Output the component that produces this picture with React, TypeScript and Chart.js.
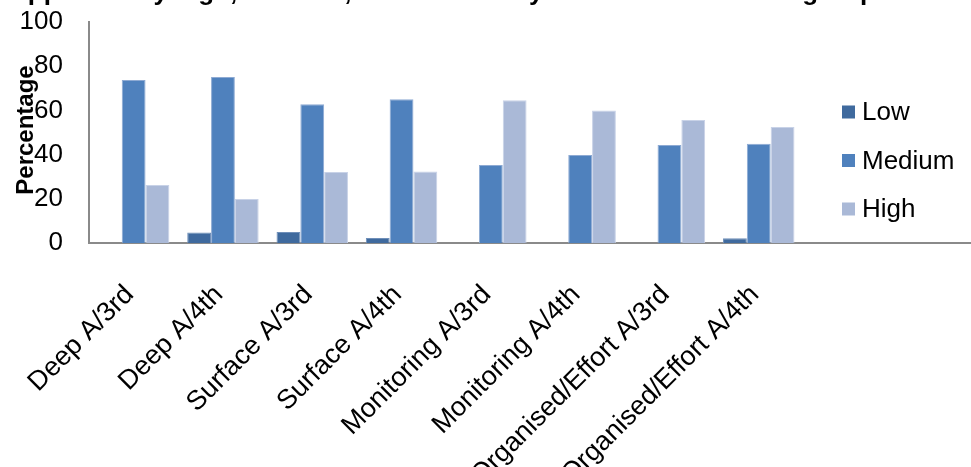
import { useEffect, useRef } from 'react';
import { Chart, registerables } from 'chart.js';

Chart.register(...registerables);

const TITLE = 'Approach by high, medium, and low-level year students in each group';
const Y_TITLE = 'Percentage';
const CATEGORIES = [
  'Deep A/3rd',
  'Deep A/4th',
  'Surface A/3rd',
  'Surface A/4th',
  'Monitoring A/3rd',
  'Monitoring A/4th',
  'Organised/Effort A/3rd',
  'Organised/Effort A/4th',
];
const EMPTY_SLOTS = ['', ''];
const SERIES_NAMES = ['Low', 'Medium', 'High'];
const LOW = [0, 4.8, 5.0, 2.3, 0, 0, 0, 2.1];
const MEDIUM = [73.8, 75.1, 62.8, 65.0, 35.3, 39.8, 44.3, 44.9];
const HIGH = [26.2, 19.9, 32.1, 32.4, 64.6, 60.0, 55.7, 52.5];
const Y_MIN = 0;
const Y_MAX = 100;
const Y_STEP = 20;
const COLORS = ['#3F6A9E', '#4F81BD', '#AAB9D7'];
const EDGE_COLORS = ['#6F8FB9', '#8EAAD3', '#C8D2E7'];

const FONT = '"Liberation Sans", Arial, sans-serif';

export default function App() {
  const ref = useRef<HTMLCanvasElement>(null);

  useEffect(() => {
    if (!ref.current) return;

    const overlay = {
      id: 'overlay',
      afterDraw(chart: any) {
        const ctx = chart.ctx as CanvasRenderingContext2D;
        ctx.save();
        // chart title (mostly outside the visible area at the top)
        ctx.fillStyle = '#000';
        ctx.font = `bold 26px ${FONT}`;
        ctx.textAlign = 'left';
        ctx.textBaseline = 'alphabetic';
        ctx.fillText(TITLE, 9, 0);

        // y axis title
        ctx.save();
        ctx.translate(33, 130);
        ctx.rotate(-Math.PI / 2);
        ctx.font = `bold 24px ${FONT}`;
        ctx.textAlign = 'center';
        ctx.textBaseline = 'alphabetic';
        ctx.fillText(Y_TITLE, 0, 0);
        ctx.restore();

        // legend
        chart.data.datasets.forEach((ds: any, i: number) => {
          const cy = 112 + i * 48.5;
          ctx.fillStyle = ds.backgroundColor;
          ctx.fillRect(842, cy - 6.5, 13, 13);
          ctx.fillStyle = '#000';
          ctx.font = `26px ${FONT}`;
          ctx.textAlign = 'left';
          ctx.textBaseline = 'middle';
          ctx.fillText(ds.label, 862, cy + 1);
        });
        ctx.restore();
      },
    };

    const seriesData = [LOW, MEDIUM, HIGH];
    const chart = new Chart(ref.current, {
      type: 'bar',
      data: {
        labels: [...CATEGORIES, ...EMPTY_SLOTS],
        datasets: SERIES_NAMES.map((name, i) => ({
          label: name,
          data: seriesData[i],
          backgroundColor: COLORS[i],
          borderColor: EDGE_COLORS[i],
          borderWidth: 1,
          categoryPercentage: 0.8,
          barPercentage: 1.0,
        })),
      },
      options: {
        responsive: false,
        animation: false,
        layout: { padding: { top: 22, right: 3, left: 0, bottom: 0 } },
        plugins: {
          legend: { display: false },
          title: { display: false },
          tooltip: { enabled: false },
        },
        scales: {
          x: {
            offset: true,
            grid: { display: false, drawTicks: false },
            border: { display: true, color: '#8a8a8a', width: 2 },
            ticks: {
              autoSkip: false,
              maxRotation: 45,
              minRotation: 45,
              padding: 36,
              labelOffset: -4,
              color: '#000',
              font: { family: FONT, size: 27 },
            },
            afterFit: (s: any) => {
              s.height = 224;
              s.paddingLeft = 0;
              s.paddingRight = 0;
            },
          },
          y: {
            min: Y_MIN,
            max: Y_MAX,
            grid: { display: false, drawTicks: false },
            border: { display: true, color: '#8a8a8a', width: 2 },
            ticks: {
              stepSize: Y_STEP,
              padding: 26,
              color: '#000',
              font: { family: FONT, size: 26 },
            },
            afterFit: (s: any) => {
              s.width = 89;
              s.paddingTop = 0;
              s.paddingBottom = 0;
            },
          },
        },
      },
      plugins: [overlay],
    });

    return () => chart.destroy();
  }, []);

  return (
    <div
      style={{
        position: 'fixed',
        left: 0,
        top: 0,
        width: 971,
        height: 467,
        overflow: 'hidden',
        background: '#fff',
      }}
    >
      <canvas ref={ref} width={985} height={467} style={{ display: 'block' }} />
    </div>
  );
}
